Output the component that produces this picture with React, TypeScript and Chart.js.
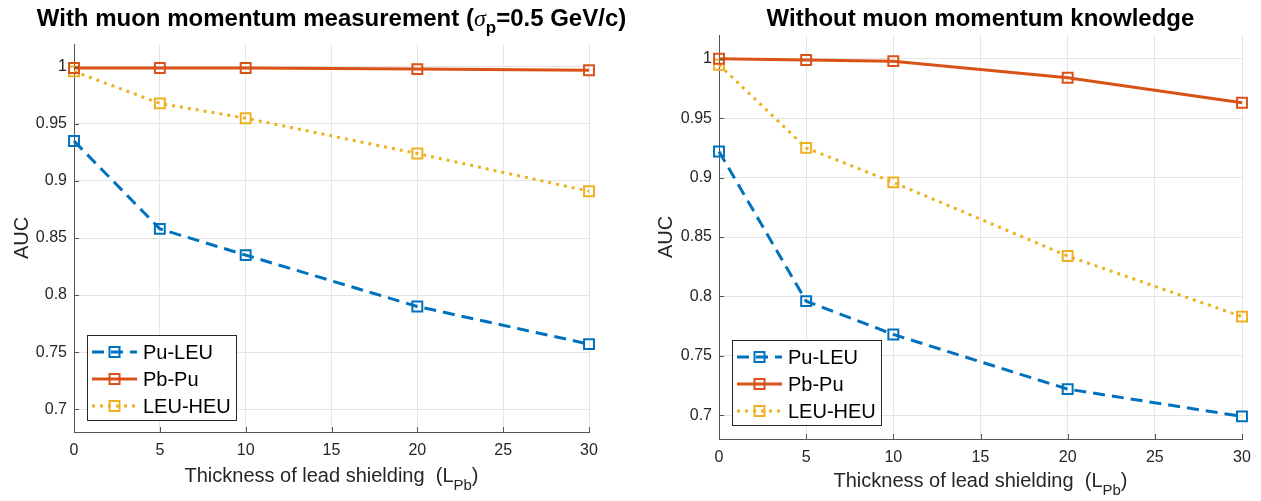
import React, { useEffect, useRef } from 'react';
import { Chart, registerables } from 'chart.js';

Chart.register(...registerables);

// ---------- data ----------
const thickness = [0, 5, 10, 20, 30];
const xTickValues = [0, 5, 10, 15, 20, 25, 30];
const yTickValues = [0.7, 0.75, 0.8, 0.85, 0.9, 0.95, 1];
const seriesNames = ['Pu-LEU', 'Pb-Pu', 'LEU-HEU'];

// With muon momentum measurement
const puLeuWith = [0.935, 0.858, 0.835, 0.79, 0.757];
const pbPuWith = [0.999, 0.999, 0.999, 0.998, 0.997];
const leuHeuWith = [0.996, 0.968, 0.955, 0.924, 0.891];

// Without muon momentum knowledge
const puLeuWithout = [0.922, 0.796, 0.768, 0.722, 0.699];
const pbPuWithout = [1.0, 0.999, 0.998, 0.984, 0.963];
const leuHeuWithout = [0.995, 0.925, 0.896, 0.834, 0.783];

const titleWith = ['With muon momentum measurement (', 'σ', 'p', '=0.5 GeV/c)'];
const titleWithout = ['Without muon momentum knowledge'];
const xAxisTitle = ['Thickness of lead shielding  (L', 'Pb', ')'];
const yAxisTitle = 'AUC';

// ---------- styles ----------
const FONT = "'Liberation Sans', Arial, Helvetica, sans-serif";
const COLORS = ['#0072BD', '#D95319', '#EDB120'];
const DASHES: number[][] = [[12, 7], [], [3, 5]];
const AXIS_COLOR = '#555555';
const GRID_COLOR = '#e5e5e5';
const TEXT_COLOR = '#262626';

type Part = { text: string; font: string; dy?: number };

function drawRich(ctx: CanvasRenderingContext2D, parts: Part[], cx: number, baseline: number, color: string) {
  let total = 0;
  const widths = parts.map((p) => {
    ctx.font = p.font;
    const w = ctx.measureText(p.text).width;
    total += w;
    return w;
  });
  let x = cx - total / 2;
  ctx.textAlign = 'left';
  ctx.textBaseline = 'alphabetic';
  ctx.fillStyle = color;
  parts.forEach((p, i) => {
    ctx.font = p.font;
    ctx.fillText(p.text, x, baseline + (p.dy || 0));
    x += widths[i];
  });
}

type PanelCfg = {
  key: string;
  left: number;
  width: number;
  area: { left: number; right: number; top: number; bottom: number };
  series: number[][];
  titleParts: Part[];
  titleBaseline: number;
  xTitleBaseline: number;
  yTitleX: number;
  legendBox: { x: number; y: number };
};

const panels: PanelCfg[] = [
  {
    key: 'with',
    left: 0,
    width: 636,
    area: { left: 74, right: 589, top: 44, bottom: 432 },
    series: [puLeuWith, pbPuWith, leuHeuWith],
    titleParts: [
      { text: titleWith[0], font: `bold 24px ${FONT}` },
      { text: titleWith[1], font: `italic 24px 'Liberation Serif', serif` },
      { text: titleWith[2], font: `bold 17px ${FONT}`, dy: 7 },
      { text: titleWith[3], font: `bold 24px ${FONT}` },
    ],
    titleBaseline: 26,
    xTitleBaseline: 482,
    yTitleX: 22,
    legendBox: { x: 87, y: 335 },
  },
  {
    key: 'without',
    left: 640,
    width: 621,
    area: { left: 79, right: 602, top: 35, bottom: 439 },
    series: [puLeuWithout, pbPuWithout, leuHeuWithout],
    titleParts: [{ text: titleWithout[0], font: `bold 24px ${FONT}` }],
    titleBaseline: 26,
    xTitleBaseline: 487,
    yTitleX: 26,
    legendBox: { x: 92, y: 340 },
  },
];

function makeOverlay(panel: PanelCfg) {
  return {
    id: 'overlay_' + panel.key,
    afterDraw(chart: any) {
      const ctx: CanvasRenderingContext2D = chart.ctx;
      const area = chart.chartArea;
      const xs = chart.scales.x;
      const ys = chart.scales.y;
      ctx.save();
      // inward tick marks
      ctx.strokeStyle = AXIS_COLOR;
      ctx.lineWidth = 1;
      ctx.setLineDash([]);
      ctx.beginPath();
      for (const v of xTickValues) {
        const px = Math.round(xs.getPixelForValue(v)) + 0.5;
        ctx.moveTo(px, area.bottom);
        ctx.lineTo(px, area.bottom - 5);
      }
      for (const v of yTickValues) {
        const py = Math.round(ys.getPixelForValue(v)) + 0.5;
        ctx.moveTo(area.left, py);
        ctx.lineTo(area.left + 5, py);
      }
      ctx.stroke();

      const cx = (area.left + area.right) / 2;
      // title
      drawRich(ctx, panel.titleParts, cx, panel.titleBaseline, '#000000');
      // x axis title
      drawRich(
        ctx,
        [
          { text: xAxisTitle[0], font: `20px ${FONT}` },
          { text: xAxisTitle[1], font: `15px ${FONT}`, dy: 8 },
          { text: xAxisTitle[2], font: `20px ${FONT}` },
        ],
        cx,
        panel.xTitleBaseline,
        TEXT_COLOR
      );
      // y axis title
      ctx.save();
      ctx.translate(panel.yTitleX, (area.top + area.bottom) / 2);
      ctx.rotate(-Math.PI / 2);
      ctx.font = `20px ${FONT}`;
      ctx.textAlign = 'center';
      ctx.textBaseline = 'middle';
      ctx.fillStyle = TEXT_COLOR;
      ctx.fillText(yAxisTitle, 0, 0);
      ctx.restore();

      // legend
      const bx = panel.legendBox.x;
      const by = panel.legendBox.y;
      const bw = 149;
      const bh = 85;
      ctx.fillStyle = '#ffffff';
      ctx.fillRect(bx, by, bw, bh);
      ctx.strokeStyle = TEXT_COLOR;
      ctx.lineWidth = 1;
      ctx.strokeRect(bx + 0.5, by + 0.5, bw, bh);
      seriesNames.forEach((name, i) => {
        const ry = by + 17 + i * 27;
        ctx.strokeStyle = COLORS[i];
        ctx.lineWidth = 3;
        ctx.setLineDash(DASHES[i]);
        ctx.beginPath();
        ctx.moveTo(bx + 5, ry);
        ctx.lineTo(bx + 50, ry);
        ctx.stroke();
        ctx.setLineDash([]);
        ctx.lineWidth = 2;
        ctx.strokeRect(bx + 27.5 - 5, ry - 5, 10, 10);
        ctx.fillStyle = '#000000';
        ctx.font = `20px ${FONT}`;
        ctx.textAlign = 'left';
        ctx.textBaseline = 'middle';
        ctx.fillText(name, bx + 56, ry + 1);
      });
      ctx.restore();
    },
  };
}

function Panel({ cfg }: { cfg: PanelCfg }) {
  const ref = useRef<HTMLCanvasElement | null>(null);
  useEffect(() => {
    if (!ref.current) return;
    const a = cfg.area;
    const chart = new Chart(ref.current, {
      type: 'line',
      data: {
        datasets: cfg.series.map((vals, i) => ({
          label: seriesNames[i],
          data: thickness.map((x, j) => ({ x, y: vals[j] })),
          borderColor: COLORS[i],
          backgroundColor: 'rgba(0,0,0,0)',
          borderWidth: 3,
          borderDash: DASHES[i],
          pointStyle: 'rect',
          pointRadius: 7,
          pointBorderWidth: 2,
          pointBorderColor: COLORS[i],
          pointBackgroundColor: 'rgba(0,0,0,0)',
          tension: 0,
          clip: false as any,
        })),
      },
      options: {
        responsive: false,
        animation: false,
        devicePixelRatio: 1,
        events: [],
        layout: { padding: { top: a.top, right: cfg.width - a.right, left: 0, bottom: 0 } },
        plugins: { legend: { display: false }, tooltip: { enabled: false }, title: { display: false } },
        scales: {
          x: {
            type: 'linear',
            min: 0,
            max: 30,
            afterBuildTicks: (s: any) => {
              s.ticks = xTickValues.map((v) => ({ value: v }));
            },
            afterFit: (s: any) => {
              s.height = 501 - a.bottom;
              s.paddingLeft = 0;
              s.paddingRight = 0;
            },
            grid: { color: GRID_COLOR, lineWidth: 1, drawTicks: false },
            border: { display: true, color: AXIS_COLOR, width: 1 },
            ticks: {
              autoSkip: false,
              maxRotation: 0,
              padding: 9,
              color: TEXT_COLOR,
              font: { family: FONT, size: 16 },
              callback: (v: any) => String(v),
            },
          },
          y: {
            type: 'linear',
            min: 0.68,
            max: 1.02,
            afterBuildTicks: (s: any) => {
              s.ticks = yTickValues.map((v) => ({ value: v }));
            },
            afterFit: (s: any) => {
              s.width = a.left;
              s.paddingTop = 0;
              s.paddingBottom = 0;
            },
            grid: { color: GRID_COLOR, lineWidth: 1, drawTicks: false },
            border: { display: true, color: AXIS_COLOR, width: 1 },
            ticks: {
              autoSkip: false,
              padding: 7,
              color: TEXT_COLOR,
              font: { family: FONT, size: 16 },
              callback: (v: any) => String(parseFloat(Number(v).toFixed(2))),
            },
          },
        },
      },
      plugins: [makeOverlay(cfg)],
    });
    return () => chart.destroy();
  }, [cfg]);
  return (
    <canvas
      ref={ref}
      width={cfg.width}
      height={501}
      style={{ position: 'absolute', left: cfg.left, top: 0, width: cfg.width, height: 501 }}
    />
  );
}

export default function App() {
  return (
    <div style={{ position: 'fixed', left: 0, top: 0, width: 1261, height: 501, background: '#ffffff' }}>
      {panels.map((p) => (
        <Panel key={p.key} cfg={p} />
      ))}
    </div>
  );
}
